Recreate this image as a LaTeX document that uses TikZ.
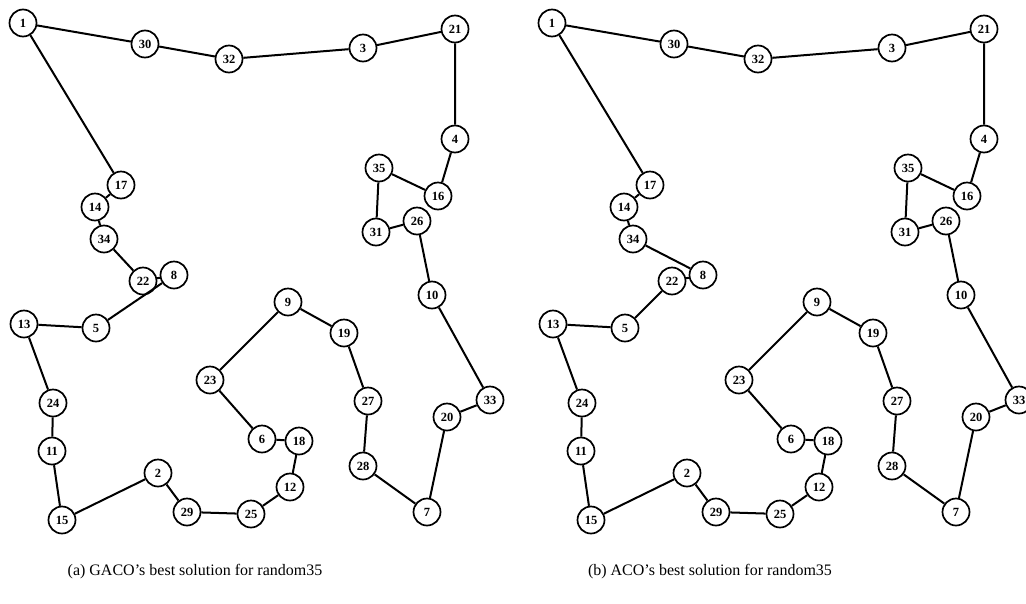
\documentclass[tikz,border=0pt]{standalone}
\usepackage{fontspec}
\setmainfont{Liberation Serif}
\newcommand{\sq}{{\char"0027}}
\begin{document}
\begin{tikzpicture}[x=1pt,y=-1pt,
  city/.style={circle,draw,line width=1.7pt,minimum size=27pt,inner sep=0pt,fill=white,font=\fontsize{12.5}{12.5}\selectfont\bfseries},
  edge/.style={line width=2pt},
  caption/.style={font=\fontsize{16}{18}\selectfont}]
\useasboundingbox (0,0) rectangle (1026,603);
\foreach \n/\x/\y in {1/23/23,30/145/44,32/229/59,3/363/48,21/455/29,4/455/139,35/379/168,16/438/196,26/417/221,31/376/232,10/432/295,33/490/400,20/447/417,7/427/512,28/363/466,27/368/401,19/344/333,9/288/302,23/210/380,6/262/439,18/299/441,12/290/487,25/251/514,29/187/512,2/158/473,15/62/520,11/52/451,24/53/403,13/24/324,5/96/328,8/174/275,22/143/281,34/104/239,14/95/207,17/121/185}{
  \node[city] (a\n) at (\x,\y) {\n};
  \node[city] (b\n) at (\x+529,\y) {\n};
}
\draw[edge] (a1)--(a30)--(a32)--(a3)--(a21)--(a4)--(a16)--(a35)--(a31)--(a26)--(a10)--(a33)--(a20)--(a7)--(a28)--(a27)--(a19)--(a9)--(a23)--(a6)--(a18)--(a12)--(a25)--(a29)--(a2)--(a15)--(a11)--(a24)--(a13)--(a5)--(a8)--(a22)--(a34)--(a14)--(a17)--(a1);
\draw[edge] (b1)--(b30)--(b32)--(b3)--(b21)--(b4)--(b16)--(b35)--(b31)--(b26)--(b10)--(b33)--(b20)--(b7)--(b28)--(b27)--(b19)--(b9)--(b23)--(b6)--(b18)--(b12)--(b25)--(b29)--(b2)--(b15)--(b11)--(b24)--(b13)--(b5)--(b22)--(b8)--(b34)--(b14)--(b17)--(b1);
\node[caption] (capa) at (195,572) {(a) GACO\sq s best solution for random35};
\node[caption] (capb) at (710,572) {(b) ACO\sq s best solution for random35};
\end{tikzpicture}
\end{document}
